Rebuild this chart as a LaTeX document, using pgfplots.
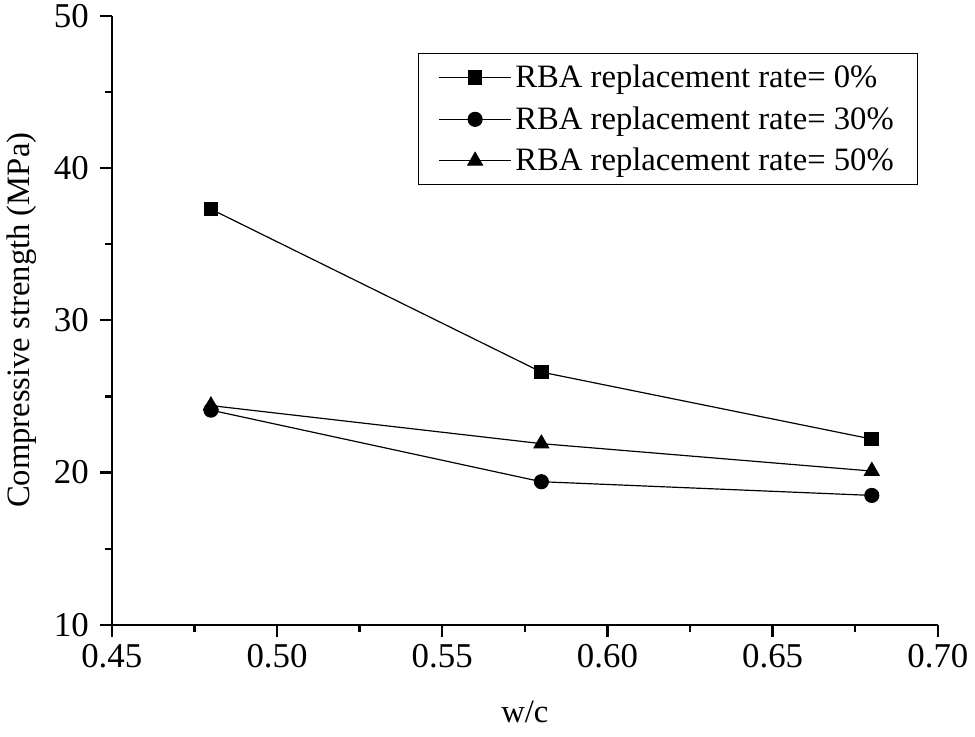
\documentclass[border=0pt]{standalone}
\usepackage{pgfplots}
\pgfplotsset{compat=1.18}
\usepackage{fontspec}
\setmainfont{Liberation Serif}
\begin{document}
\begin{tikzpicture}
\begin{axis}[
  scale only axis, width=415pt, height=306pt,
  xmin=0.45, xmax=0.70, ymin=10, ymax=50,
  axis x line*=bottom, axis y line*=left,
  axis line style={line width=1.2pt},
  tick align=outside,
  major tick length=6pt, minor tick length=3.5pt,
  every tick/.style={line width=1.2pt, black},
  xtick={0.45,0.50,0.55,0.60,0.65,0.70},
  ytick={10,20,30,40,50},
  minor x tick num=1, minor y tick num=1,
  xticklabel style={/pgf/number format/.cd, fixed, fixed zerofill, precision=2},
  yticklabel style={xshift=-2pt, inner ysep=2pt},
  /pgf/number format/assume math mode=true,
  tick label style={font=\fontsize{17.5}{21}\selectfont},
  label style={font=\fontsize{16.4}{20}\selectfont},
  xlabel={w/c}, ylabel={Compressive strength (MPa)},
  xlabel style={yshift=-10pt},
  ylabel style={yshift=2pt},
  legend style={at={(0.976,0.938)}, anchor=north east, draw=black, line width=0.5pt,
    font=\fontsize{16.4}{20}\selectfont, row sep=4pt, inner xsep=10pt, inner ysep=3.5pt,
    cells={anchor=west}},
  legend cell align=left,
  legend image code/.code={\draw[line width=0.6pt, mark repeat=2,mark phase=2] plot coordinates {(0cm,0cm)(0.63cm,0cm)(1.26cm,0cm)};},
  after end axis/.code={\path (rel axis cs:0,0) ++(0pt,-56pt);},
]
\addplot[black, line width=0.6pt, mark=square*, mark size=3.4pt] coordinates {(0.48,37.3) (0.58,26.6) (0.68,22.2)};
\addlegendentry{RBA replacement rate= 0\%}
\addplot[black, line width=0.6pt, mark=*, mark size=3.5pt] coordinates {(0.48,24.1) (0.58,19.4) (0.68,18.5)};
\addlegendentry{RBA replacement rate= 30\%}
\addplot[black, line width=0.6pt, mark=triangle*, mark size=4.2pt] coordinates {(0.48,24.4) (0.58,21.9) (0.68,20.1)};
\addlegendentry{RBA replacement rate= 50\%}
\end{axis}
\end{tikzpicture}
\end{document}
